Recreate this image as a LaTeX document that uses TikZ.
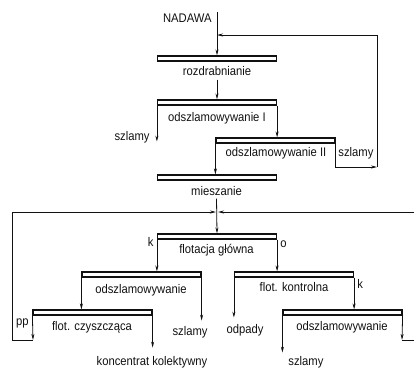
\documentclass[tikz,border=0pt]{standalone}
\usepackage{fontspec}
\setmainfont{Liberation Sans}[FakeStretch=0.9]
\usetikzlibrary{arrows.meta}
\definecolor{ink}{HTML}{111111}

\begin{document}
\begin{tikzpicture}[x=1pt, y=-1pt, line width=0.8pt, color=ink,
    >={Stealth[length=6pt, width=3pt]},
    every node/.style={font=\fontsize{12.5}{14}\selectfont, inner sep=0pt},
    bar/.style={draw, line width=1.2pt, minimum width=119pt, minimum height=5pt},
    lbl/.style={anchor=base}]
  \useasboundingbox (0,0) rectangle (414,367);
  % bars
  \node[bar] (rozdr) at (217,58.5) {};
  \node[bar] (odsz1) at (217,102.5) {};
  \node[bar] (odsz2) at (275.5,140.5) {};
  \node[bar] (miesz) at (217,177.5) {};
  \node[bar] (flotg) at (217,236.5) {};
  \node[bar] (odsz3) at (141.5,274.5) {};
  \node[bar] (flotk) at (294,274.5) {};
  \node[bar] (flotc) at (92.5,312.5) {};
  \node[bar] (odsz4) at (342.5,312.5) {};
  % labels
  \node[anchor=base east] (tnad) at (212,22) {NADAWA};
  \node[lbl] (trozdr) at (217,75) {rozdrabnianie};
  \node[lbl] (todsz1) at (217,121) {odszlamowywanie I};
  \node[anchor=base east] (tszl1) at (150,140) {szlamy};
  \node[lbl] (todsz2) at (276,156.5) {odszlamowywanie II};
  \node[anchor=base west] (tszl2) at (338,156.5) {szlamy};
  \node[lbl] (tmiesz) at (216.5,195) {mieszanie};
  \node[lbl] (tflotg) at (216.5,253.5) {flotacja główna};
  \node[anchor=base east] (tk1) at (154,246) {k};
  \node[anchor=base west] (to) at (280,247) {o};
  \node[lbl] (todsz3) at (141,293.5) {odszlamowywanie};
  \node[lbl] (tflotk) at (294,291.5) {flot. kontrolna};
  \node[anchor=base west] (tk2) at (357,288) {k};
  \node[lbl] (tszl3) at (190,335.5) {szlamy};
  \node[lbl] (todp) at (245,333.5) {odpady};
  \node[lbl] (tflotc) at (92,330.5) {flot. czyszcząca};
  \node[anchor=base east] (tpp) at (29,325.5) {pp};
  \node[lbl] (todsz4) at (342,330) {odszlamowywanie};
  \node[lbl] (tkonc) at (152,365) {koncentrat kolektywny};
  \node[anchor=base west] (tszl4) at (288,365.5) {szlamy};
  % points of the loops
  \coordinate (feed) at (217,12);
  \coordinate (retin) at (217,35);
  \coordinate (ret) at (377,167);
  \coordinate (cross) at (217,212);
  \coordinate (lcorner) at (12,212);
  \coordinate (redge) at (414,212);
  \coordinate (ppout) at (33,340);
  \coordinate (rout) at (402,340);
  \coordinate (routedge) at (414,340);
  % main line
  \draw[->] (feed) -- (rozdr.north);
  \draw[->] (ret) |- (retin);
  \draw[->] ([yshift=-4pt]trozdr.south) -- (odsz1.north);
  \draw[->] (odsz1.south west) -- ++(0,36);
  \draw[->] (odsz1.south east) -- (odsz1.south east |- odsz2.north);
  \draw[->] (odsz2.south west) -- (odsz2.south west |- miesz.north);
  \draw[->] (odsz2.south east) |- (ret);
  \draw[->] ([yshift=-3pt]tmiesz.south) -- (flotg.north);
  % flotation
  \draw[->] (flotg.south west) -- (flotg.south west |- odsz3.north);
  \draw[->] (flotg.south east) -- (flotg.south east |- flotk.north);
  \draw[->] (odsz3.south west) -- (odsz3.south west |- flotc.north);
  \draw[->] (odsz3.south east) -- ++(0,43);
  \draw[->] (flotc.south west) -- (ppout);
  \draw[->] (flotc.south east) -- ++(0,32);
  \draw[->] (flotk.south west) -- ++(0,40);
  \draw[->] (flotk.south east) -- (flotk.south east |- odsz4.north);
  \draw[->] (odsz4.south west) -- ++(0,37);
  \draw[->] (odsz4.south east) -- (rout);
  % returns to the mixing point
  \draw[->] (ppout) -| (lcorner) -- ([xshift=-1pt]cross);
  \draw (rout) -- (routedge);
  \draw[->] (redge) -- ([xshift=1pt]cross);
\end{tikzpicture}
\end{document}
